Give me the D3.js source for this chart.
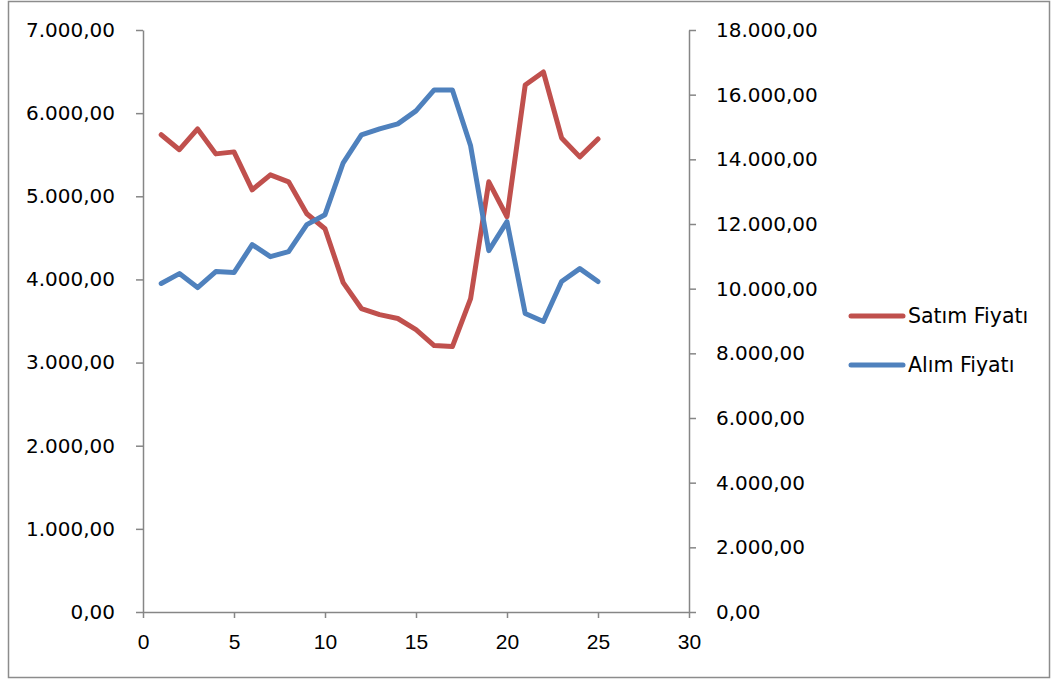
<!DOCTYPE html>
<html><head><meta charset="utf-8">
<script src="https://cdn.jsdelivr.net/npm/d3@7"></script>
<style>body{margin:0;background:#fff}svg{display:block}</style>
</head><body>
<svg id="c" width="1057" height="681"></svg>
<script>
const xs = d3.range(1, 26);
const satim = [5740,5560,5810,5510,5534,5078,5258,5174,4790,4610,3962,3650,3577,3530,3397,3205,3193,3770,5174,4754,6338,6495,5702,5474,5690];
const alim = [10160,10466,10034,10528,10497,11362,10991,11146,11979,12288,13893,14758,14943,15097,15499,16147,16147,14418,11176,12072,9231,8984,10219,10620,10219];
const seriesNames = ["Satım Fiyatı","Alım Fiyatı"];
const colors = ["#C0504D","#4F81BD"];
const xTicks = [0,5,10,15,20,25,30];
const yLeftTicks = d3.range(0, 7001, 1000);
const yRightTicks = d3.range(0, 18001, 2000);

const svg = d3.select("#c");
const fmt = v => d3.format(",.2f")(v).replace(/,/g,"#").replace(/\./g,",").replace(/#/g,".");

svg.append("rect").attr("x",8.5).attr("y",1.5).attr("width",1041).attr("height",676)
  .attr("fill","#fff").attr("stroke","#8c8c8c").attr("stroke-width",1.5);

const L = 143, R = 689, T = 30, B = 612;
const x = d3.scaleLinear().domain([0,30]).range([L,R]);
const yL = d3.scaleLinear().domain([0,7000]).range([B,T]);
const yR = d3.scaleLinear().domain([0,18000]).range([B,T]);

const axisColor = "#868686";
const yFont = "'DejaVu Sans', Verdana, sans-serif";
const gx = svg.append("g").attr("transform",`translate(0,${B})`)
  .call(d3.axisBottom(x).tickValues(xTicks).tickSize(6).tickSizeOuter(0).tickPadding(16));
const gl = svg.append("g").attr("transform",`translate(${L},0)`)
  .call(d3.axisLeft(yL).tickValues(yLeftTicks).tickFormat(fmt).tickSize(7).tickSizeOuter(0).tickPadding(21));
const gr = svg.append("g").attr("transform",`translate(${R},0)`)
  .call(d3.axisRight(yR).tickValues(yRightTicks).tickFormat(fmt).tickSize(7).tickSizeOuter(0).tickPadding(20));
[gx,gl,gr].forEach(g=>{
  g.selectAll("path").attr("stroke",axisColor).attr("stroke-width",1.5);
  g.selectAll("line").attr("stroke",axisColor).attr("stroke-width",1.5);
  g.selectAll("text").attr("fill","#000").style("font-family",yFont).style("font-size","20px");
});
gx.selectAll("text").style("font-family","'Liberation Sans', Arial, sans-serif").style("font-size","21px");

const lineL = d3.line().x((d,i)=>x(xs[i])).y(d=>yL(d));
const lineR = d3.line().x((d,i)=>x(xs[i])).y(d=>yR(d));
svg.append("path").datum(satim).attr("d",lineL).attr("fill","none")
  .attr("stroke",colors[0]).attr("stroke-width",5).attr("stroke-linejoin","round").attr("stroke-linecap","round");
svg.append("path").datum(alim).attr("d",lineR).attr("fill","none")
  .attr("stroke",colors[1]).attr("stroke-width",5).attr("stroke-linejoin","round").attr("stroke-linecap","round");

const lg = svg.append("g");
seriesNames.forEach((n,i)=>{
  const yy = 316 + i*49;
  lg.append("line").attr("x1",851).attr("x2",903).attr("y1",yy).attr("y2",yy)
    .attr("stroke",colors[i]).attr("stroke-width",5).attr("stroke-linecap","round");
  lg.append("text").attr("x",908).attr("y",yy+7).text(n)
    .style("font-family",yFont).style("font-size","20.5px").attr("fill","#000");
});
</script>
</body></html>
